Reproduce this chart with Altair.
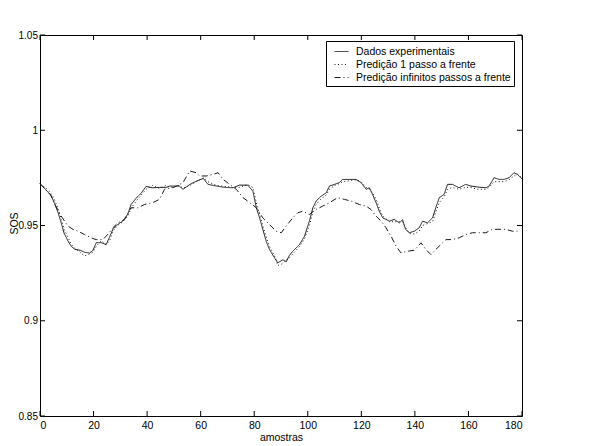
import altair as alt
import pandas as pd

# ---- data ----
x_exp = [0, 2, 4, 5, 6.7, 8, 9, 10.4, 11.7, 13, 15, 16.6, 18.5, 19.8, 21, 22.8, 24.7, 26, 27.2, 29,
         31, 32.8, 34, 36, 37.8, 39.6, 42, 44.6, 47, 48.5, 52, 53.4, 56, 58.4, 61, 62.7, 66, 69, 72, 74.5,
         77.6, 79.5, 80.8, 82, 83.2, 84.5, 85.7, 87.6, 88.8, 90.7, 92, 93, 94.4, 96.9, 98.8, 100.6, 101.9,
         103.1, 105, 106.9, 108.1, 110, 111.8, 113, 115.5, 118, 119.9, 121.8, 123, 124.2, 125.5, 126.7,
         128, 130.5, 132.3, 134.2, 135.4, 136.5, 137.9, 139.8, 141.6, 142.9, 144.7, 146.6, 147.8, 149.1,
         150.9, 152.2, 154, 156.5, 159, 160.9, 163.4, 166.5, 167.7, 169.6, 171.4, 173.3, 175.2, 177,
         178.3, 180]
y_exp = [0.972, 0.969, 0.966, 0.963, 0.957, 0.951, 0.946, 0.942, 0.939, 0.9375, 0.937, 0.936, 0.9355,
         0.937, 0.941, 0.941, 0.940, 0.944, 0.948, 0.9505, 0.9525, 0.956, 0.961, 0.9645, 0.967, 0.9705,
         0.9698, 0.970, 0.970, 0.9707, 0.9707, 0.969, 0.9716, 0.9733, 0.9747, 0.9716, 0.9707, 0.970,
         0.9698, 0.9712, 0.9712, 0.968, 0.9593, 0.954, 0.948, 0.9417, 0.9374, 0.933, 0.9304, 0.932,
         0.931, 0.934, 0.9365, 0.940, 0.9444, 0.9523, 0.9593, 0.9628, 0.9654, 0.9672, 0.9707, 0.9716,
         0.9725, 0.9742, 0.9742, 0.9742, 0.9725, 0.969, 0.9698, 0.9663, 0.962, 0.9575, 0.954, 0.9523,
         0.9532, 0.9514, 0.953, 0.948, 0.9462, 0.947, 0.9488, 0.9523, 0.9514, 0.954, 0.9593, 0.9646,
         0.9663, 0.9716, 0.9716, 0.9698, 0.9716, 0.9707, 0.9702, 0.9698, 0.9707, 0.9751, 0.9742, 0.9742,
         0.9751, 0.9777, 0.9768, 0.9745]

x_one = x_exp
y_one = [0.971, 0.970, 0.967, 0.965, 0.959, 0.953, 0.948, 0.944, 0.940, 0.938, 0.936, 0.934, 0.935,
         0.936, 0.939, 0.942, 0.940, 0.942, 0.947, 0.950, 0.952, 0.955, 0.959, 0.963, 0.966, 0.969,
         0.971, 0.9695, 0.971, 0.970, 0.971, 0.9695, 0.971, 0.973, 0.975, 0.973, 0.971, 0.9705, 0.970,
         0.970, 0.9715, 0.970, 0.962, 0.956, 0.950, 0.944, 0.939, 0.934, 0.929, 0.930, 0.932, 0.933,
         0.935, 0.939, 0.943, 0.950, 0.957, 0.961, 0.964, 0.966, 0.969, 0.971, 0.972, 0.973, 0.9735,
         0.974, 0.973, 0.970, 0.969, 0.967, 0.964, 0.959, 0.955, 0.952, 0.952, 0.952, 0.952, 0.949,
         0.946, 0.9455, 0.947, 0.950, 0.951, 0.952, 0.957, 0.962, 0.965, 0.969, 0.970, 0.969, 0.970,
         0.970, 0.969, 0.969, 0.970, 0.973, 0.973, 0.973, 0.974, 0.976, 0.977, 0.975]

x_inf = [0, 2, 4, 6, 7.9, 10.4, 12.3, 14.2, 16.6, 19.1, 21, 23.5, 25.3, 27.2, 29.1, 31.6, 34, 36.5, 39,
         42.1, 44.6, 46.5, 50, 53.4, 55.9, 58.4, 59.6, 62.1, 64.6, 66.5, 68.4, 70.8, 73.3, 75.8, 77.6,
         80.8, 83.2, 85.7, 88.2, 90.1, 91.9, 94.4, 96.3, 98.2, 100.6, 103.1, 105.6, 108.1, 111.2, 113.7,
         116.2, 119.3, 121.8, 123.6, 125.5, 127.4, 129.2, 131.1, 133, 134.8, 137.3, 139.8, 142.3, 144.1,
         146, 147.8, 149.7, 151.6, 154, 156.5, 159, 161.5, 164, 166.5, 169, 171.4, 173.9, 176.4, 178.3]
y_inf = [0.972, 0.969, 0.966, 0.960, 0.955, 0.9497, 0.948, 0.947, 0.9453, 0.9435, 0.9426, 0.9426,
         0.9453, 0.9488, 0.9514, 0.9532, 0.9593, 0.9593, 0.961, 0.962, 0.9637, 0.969, 0.970, 0.9725,
         0.9786, 0.9777, 0.976, 0.976, 0.9768, 0.9777, 0.9742, 0.9716, 0.969, 0.9646, 0.9628, 0.9593,
         0.954, 0.9505, 0.947, 0.9462, 0.9497, 0.954, 0.9567, 0.9575, 0.9558, 0.9584, 0.9602, 0.962,
         0.9646, 0.9637, 0.9628, 0.961, 0.9602, 0.9584, 0.9549, 0.9523, 0.9488, 0.9444, 0.9391, 0.9356,
         0.9365, 0.937, 0.9409, 0.9374, 0.9347, 0.9374, 0.94, 0.9426, 0.9426, 0.9435, 0.9453, 0.9462,
         0.9462, 0.9462, 0.948, 0.948, 0.948, 0.947, 0.947]

series_names = ["Dados experimentais", "Predição 1 passo a frente", "Predição infinitos passos a frente"]
x_ticks = [0, 20, 40, 60, 80, 100, 120, 140, 160, 180]
y_ticks = [0.85, 0.9, 0.95, 1.0, 1.05]

rows = []
for name, xs, ys in zip(series_names, [x_exp, x_one, x_inf], [y_exp, y_one, y_inf]):
    for i, (a, b) in enumerate(zip(xs, ys)):
        rows.append({"amostra": a, "SOS": b, "serie": name, "ordem": i})
df = pd.DataFrame(rows)

W, H = 482, 381
FONT = "Liberation Sans"
FS = 10.5

xs = alt.Scale(domain=[0, 180], nice=False, zero=False)
ys = alt.Scale(domain=[0.85, 1.05], nice=False, zero=False)

lines = alt.Chart(df).mark_line(strokeWidth=1, color="#1a1a1a").encode(
    x=alt.X("amostra:Q", scale=xs,
            axis=alt.Axis(values=x_ticks, title="amostras", ticks=False, domain=False, grid=False,
                          labelPadding=4, titlePadding=2, labelFontSize=FS, titleFontSize=FS,
                          titleFontWeight="normal", labelColor="black", titleColor="black",
                          labelFont=FONT, titleFont=FONT)),
    y=alt.Y("SOS:Q", scale=ys,
            axis=alt.Axis(values=y_ticks, format="~g", title="SOS", ticks=False, domain=False,
                          grid=False, labelPadding=2.5, labelFontSize=10, titleFontSize=FS,
                          titleFontWeight="normal", labelColor="black", titleColor="black",
                          labelFont=FONT, titleFont=FONT, titleX=-25.5, titleY=188,
                          titleBaseline="middle")),
    strokeDash=alt.StrokeDash("serie:N",
                              scale=alt.Scale(domain=series_names,
                                              range=[[1, 0], [1, 2.5], [6, 3, 1, 3]]),
                              legend=alt.Legend(title=None, orient="none", legendX=286, legendY=6,
                                                strokeColor="black", fillColor="white",
                                                padding=3, symbolType="stroke", symbolSize=196,
                                                symbolOffset=5, symbolStrokeWidth=1,
                                                symbolStrokeColor="#1a1a1a",
                                                labelFontSize=FS, labelFont=FONT, labelColor="black",
                                                rowPadding=0, labelOffset=7, labelLimit=300)),
    detail="serie:N",
    order="ordem:Q",
)

xt = pd.DataFrame({"t": x_ticks})
yt = pd.DataFrame({"t": y_ticks})
tick_style = dict(color="black", strokeWidth=1)
xb = alt.Chart(xt).mark_rule(**tick_style).encode(
    x=alt.X("t:Q", scale=xs), y=alt.value(H), y2=alt.value(H - 5))
xtop = alt.Chart(xt).mark_rule(**tick_style).encode(
    x=alt.X("t:Q", scale=xs), y=alt.value(0), y2=alt.value(5))
yl = alt.Chart(yt).mark_rule(**tick_style).encode(
    y=alt.Y("t:Q", scale=ys), x=alt.value(0), x2=alt.value(5))
yr = alt.Chart(yt).mark_rule(**tick_style).encode(
    y=alt.Y("t:Q", scale=ys), x=alt.value(W), x2=alt.value(W - 5))

chart = alt.layer(xb, xtop, yl, yr, lines).properties(
    width=W, height=H,
    autosize=alt.AutoSizeParams(type="none"),
    padding={"left": 32, "top": 27, "right": 70, "bottom": 30},
    background="white",
).configure_view(stroke="black", strokeWidth=1)

chart.save("out.html", embed_options={"renderer": "svg", "actions": False})
